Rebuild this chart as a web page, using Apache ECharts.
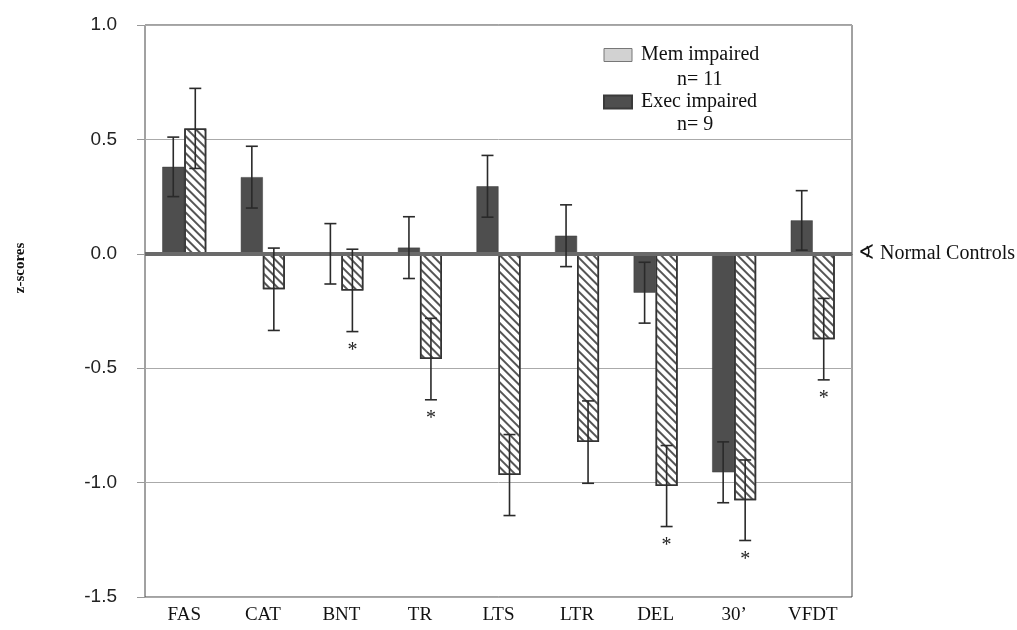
<!DOCTYPE html>
<html>
<head>
<meta charset="utf-8">
<script src="https://cdn.jsdelivr.net/npm/echarts@6/dist/echarts.min.js"></script>
<style>
  html, body { margin: 0; padding: 0; background: #fff; }
  #chart { width: 1017px; height: 630px; }
</style>
</head>
<body>
<div id="chart"></div>
<script>
// tests, in x-axis order
let categories = ['FAS', 'CAT', 'BNT', 'TR', 'LTS', 'LTR', 'DEL', '30\u2019', 'VFDT'];

// Exec impaired group (n = 9)
let execValues = [0.38, 0.335, 0.0, 0.027, 0.295, 0.079, -0.17, -0.955, 0.146];
let execErrors = [0.13, 0.135, 0.132, 0.135, 0.135, 0.135, 0.133, 0.133, 0.13];

// Mem impaired group (n = 11)
let memValues = [0.548, -0.155, -0.16, -0.46, -0.967, -0.823, -1.015, -1.077, -0.373];
let memErrors = [0.175, 0.18, 0.18, 0.178, 0.177, 0.18, 0.177, 0.176, 0.178];
let memStars = [0, 0, 1, 1, 0, 0, 1, 1, 1];
let execStars = [0, 0, 0, 0, 0, 0, 0, 0, 0];

let yTicks = { min: -1.5, max: 1.0, step: 0.5 };

const SERIF = '"Liberation Serif", "Times New Roman", serif';
const SANS = '"Liberation Sans", Arial, sans-serif';

function errData(values, errors, stars)
{
    let out = [];
    for (let i = 0; i < values.length; i++)
    {
        out.push([i, values[i], errors[i], stars[i]]);
    }
    return out;
}

// error bar with caps, shifted onto its bar
function errRenderer(offset)
{
    return function (params, api) {
        let i = api.value(0);
        let v = api.value(1);
        let e = api.value(2);
        let top = api.coord([i, v + e]);
        let bot = api.coord([i, v - e]);
        let x = top[0] + offset;
        let cap = 6;
        let st = { stroke: '#2a2a2a', lineWidth: 1.6 };
        let children = [
            { type: 'line', shape: { x1: x, y1: top[1], x2: x, y2: bot[1] }, style: st },
            { type: 'line', shape: { x1: x - cap, y1: top[1], x2: x + cap, y2: top[1] }, style: st },
            { type: 'line', shape: { x1: x - cap, y1: bot[1], x2: x + cap, y2: bot[1] }, style: st }
        ];
        if (api.value(3))
        {
            children.push({
                type: 'text',
                style: {
                    text: '*', x: x, y: bot[1] + 19,
                    textAlign: 'center', textVerticalAlign: 'middle',
                    font: '20px ' + SERIF, fill: '#222'
                }
            });
        }
        return { type: 'group', children: children };
    };
}

let chart = echarts.init(document.getElementById('chart'));

let option = {
    animation: false,
    backgroundColor: '#fff',
    grid: {
        left: 145, right: 165, top: 25, bottom: 33,
        show: true, borderColor: '#444', borderWidth: 1
    },
    legend: {
        orient: 'vertical',
        left: 603, top: 45,
        padding: 0,
        icon: 'rect',
        itemWidth: 28, itemHeight: 13, itemGap: 27,
        textStyle: { fontFamily: SERIF, fontSize: 20, color: '#111', padding: [0, 0, 0, 4] },
        data: [
            { name: 'Mem impaired', itemStyle: { color: '#d2d2d2', borderColor: '#777', borderWidth: 1, decal: 'none' } },
            { name: 'Exec impaired', itemStyle: { color: '#4e4e4e' } }
        ]
    },
    graphic: [
        { type: 'text', left: 677, top: 70, style: { text: 'n= 11', font: '20px ' + SERIF, fill: '#111' } },
        { type: 'text', left: 677, top: 115, style: { text: 'n= 9', font: '20px ' + SERIF, fill: '#111' } },
        {
            type: 'text', x: 20, y: 268, rotation: Math.PI / 2,
            style: {
                text: 'z-scores', font: 'bold 15px ' + SERIF, fill: '#111',
                textAlign: 'center', textVerticalAlign: 'middle'
            }
        }
    ],
    xAxis: {
        type: 'category',
        data: categories,
        axisLine: { show: true, lineStyle: { color: '#444' } },
        axisTick: { show: false },
        axisLabel: { fontFamily: SERIF, fontSize: 19, color: '#111', margin: 9 }
    },
    yAxis: {
        type: 'value',
        min: yTicks.min, max: yTicks.max, interval: yTicks.step,
        axisLine: { show: false },
        axisTick: { show: true, length: 8, lineStyle: { color: '#999' } },
        axisLabel: {
            fontFamily: SANS, fontSize: 19, color: '#222', margin: 28,
            formatter: v => v.toFixed(1)
        },
        splitLine: { show: true, lineStyle: { color: '#aaa', width: 1 } }
    },
    series: [
        {
            name: 'Exec impaired',
            type: 'bar',
            data: execValues,
            barWidth: 22,
            barGap: '0%',
            itemStyle: { color: '#4e4e4e', borderColor: '#3a3a3a', borderWidth: 0.5 },
            markLine: {
                silent: true,
                symbol: 'none',
                lineStyle: { color: '#6a6a6a', width: 4, type: 'solid' },
                label: {
                    show: true, position: 'end', distance: 6,
                    formatter: '\u2222 Normal Controls',
                    fontFamily: SERIF, fontSize: 20, color: '#111'
                },
                data: [{ yAxis: 0 }]
            }
        },
        {
            name: 'Mem impaired',
            type: 'bar',
            data: memValues,
            barWidth: 22,
            itemStyle: {
                color: '#fff', borderColor: '#333', borderWidth: 1.5,
                decal: {
                    symbol: 'rect',
                    dashArrayX: [1, 0],
                    dashArrayY: [1.2, 4],
                    rotation: Math.PI / 4,
                    color: '#555'
                }
            }
        },
        {
            name: 'execErr',
            type: 'custom',
            z: 5,
            renderItem: errRenderer(-11),
            data: errData(execValues, execErrors, execStars)
        },
        {
            name: 'memErr',
            type: 'custom',
            z: 5,
            renderItem: errRenderer(11),
            data: errData(memValues, memErrors, memStars)
        }
    ]
};

chart.setOption(option);
</script>
</body>
</html>
